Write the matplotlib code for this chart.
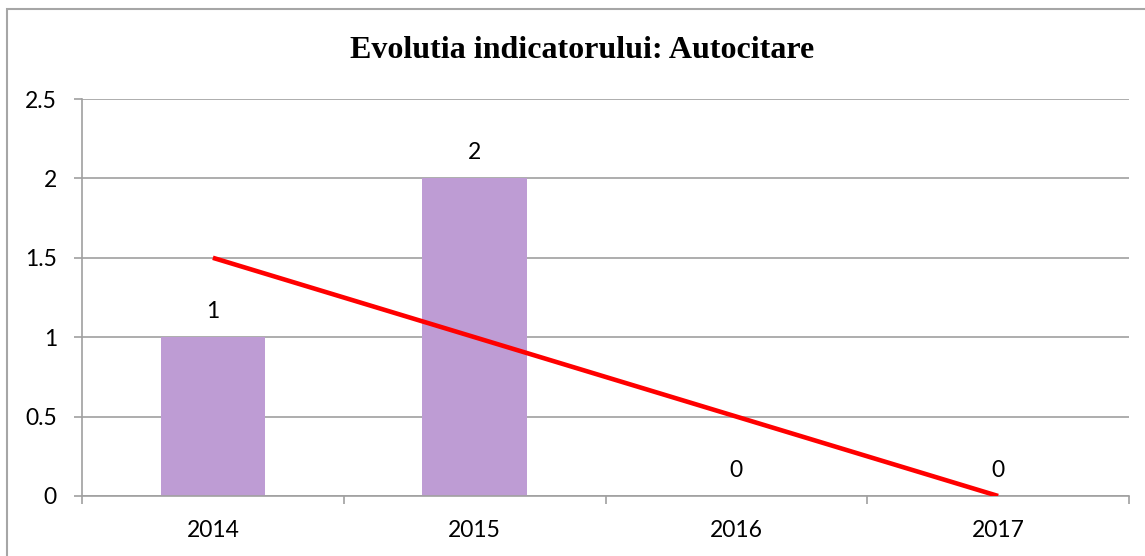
import numpy as np
import matplotlib.pyplot as plt
from matplotlib.patches import Rectangle

years = ['2014', '2015', '2016', '2017']
values = [1, 2, 0, 0]
y_ticks = [0, 0.5, 1, 1.5, 2, 2.5]

bar_color = '#BE9CD4'
grid_color = '#A0A0A0'

fig = plt.figure(figsize=(11.45, 5.56), dpi=100)
ax = fig.add_axes([82 / 1145, 1 - 496 / 556, (1129 - 82) / 1145, (496 - 99) / 556])

x = np.arange(len(years))
ax.bar(x, values, width=0.4, color=bar_color, zorder=2)

# linear trendline, like the spreadsheet's
slope, icpt = np.polyfit(x, values, 1)
ax.plot([x[0], x[-1]], [icpt + slope * x[0], icpt + slope * x[-1]],
        color='#FF0000', linewidth=3.3, solid_capstyle='butt', zorder=3)

for xi, v in zip(x, values):
    ax.annotate(str(v), (xi, v), xytext=(0, 11), textcoords='offset points',
                ha='center', va='bottom', fontsize=16.5, family='Lato')

ax.set_xlim(-0.5, len(years) - 0.5)
ax.set_ylim(0, 2.5)
ax.set_yticks(y_ticks)
ax.set_yticklabels(['0', '0.5', '1', '1.5', '2', '2.5'])
ax.set_xticks(x)
ax.set_xticklabels(years)
ax.set_xticks(np.arange(len(years) + 1) - 0.5, minor=True)
ax.tick_params(axis='x', which='major', length=0, pad=17)
ax.tick_params(axis='x', which='minor', length=6, color=grid_color, width=1.2)
ax.tick_params(axis='y', length=6, color=grid_color, width=1.2, pad=12)
for lab in ax.get_xticklabels() + ax.get_yticklabels():
    lab.set_fontfamily('Lato')
    lab.set_fontsize(16.5)

ax.yaxis.grid(True, color=grid_color, linewidth=1.2, zorder=0)
ax.set_axisbelow(True)
for s in ['top', 'right']:
    ax.spines[s].set_visible(False)
for s in ['left', 'bottom']:
    ax.spines[s].set_color(grid_color)
    ax.spines[s].set_linewidth(1.2)

fig.text(582 / 1145, 1 - 50 / 556, 'Evolutia indicatorului: Autocitare',
         ha='center', va='center', fontsize=23, fontweight='bold',
         family='Liberation Serif')

# outer chart border
fig.patches.append(Rectangle((7 / 1145, -0.05), 1.1, 1 - 9 / 556 + 0.05,
                             transform=fig.transFigure, fill=False,
                             edgecolor='#A6A6A6', linewidth=1.5))

fig.savefig('out.png', dpi=100)
